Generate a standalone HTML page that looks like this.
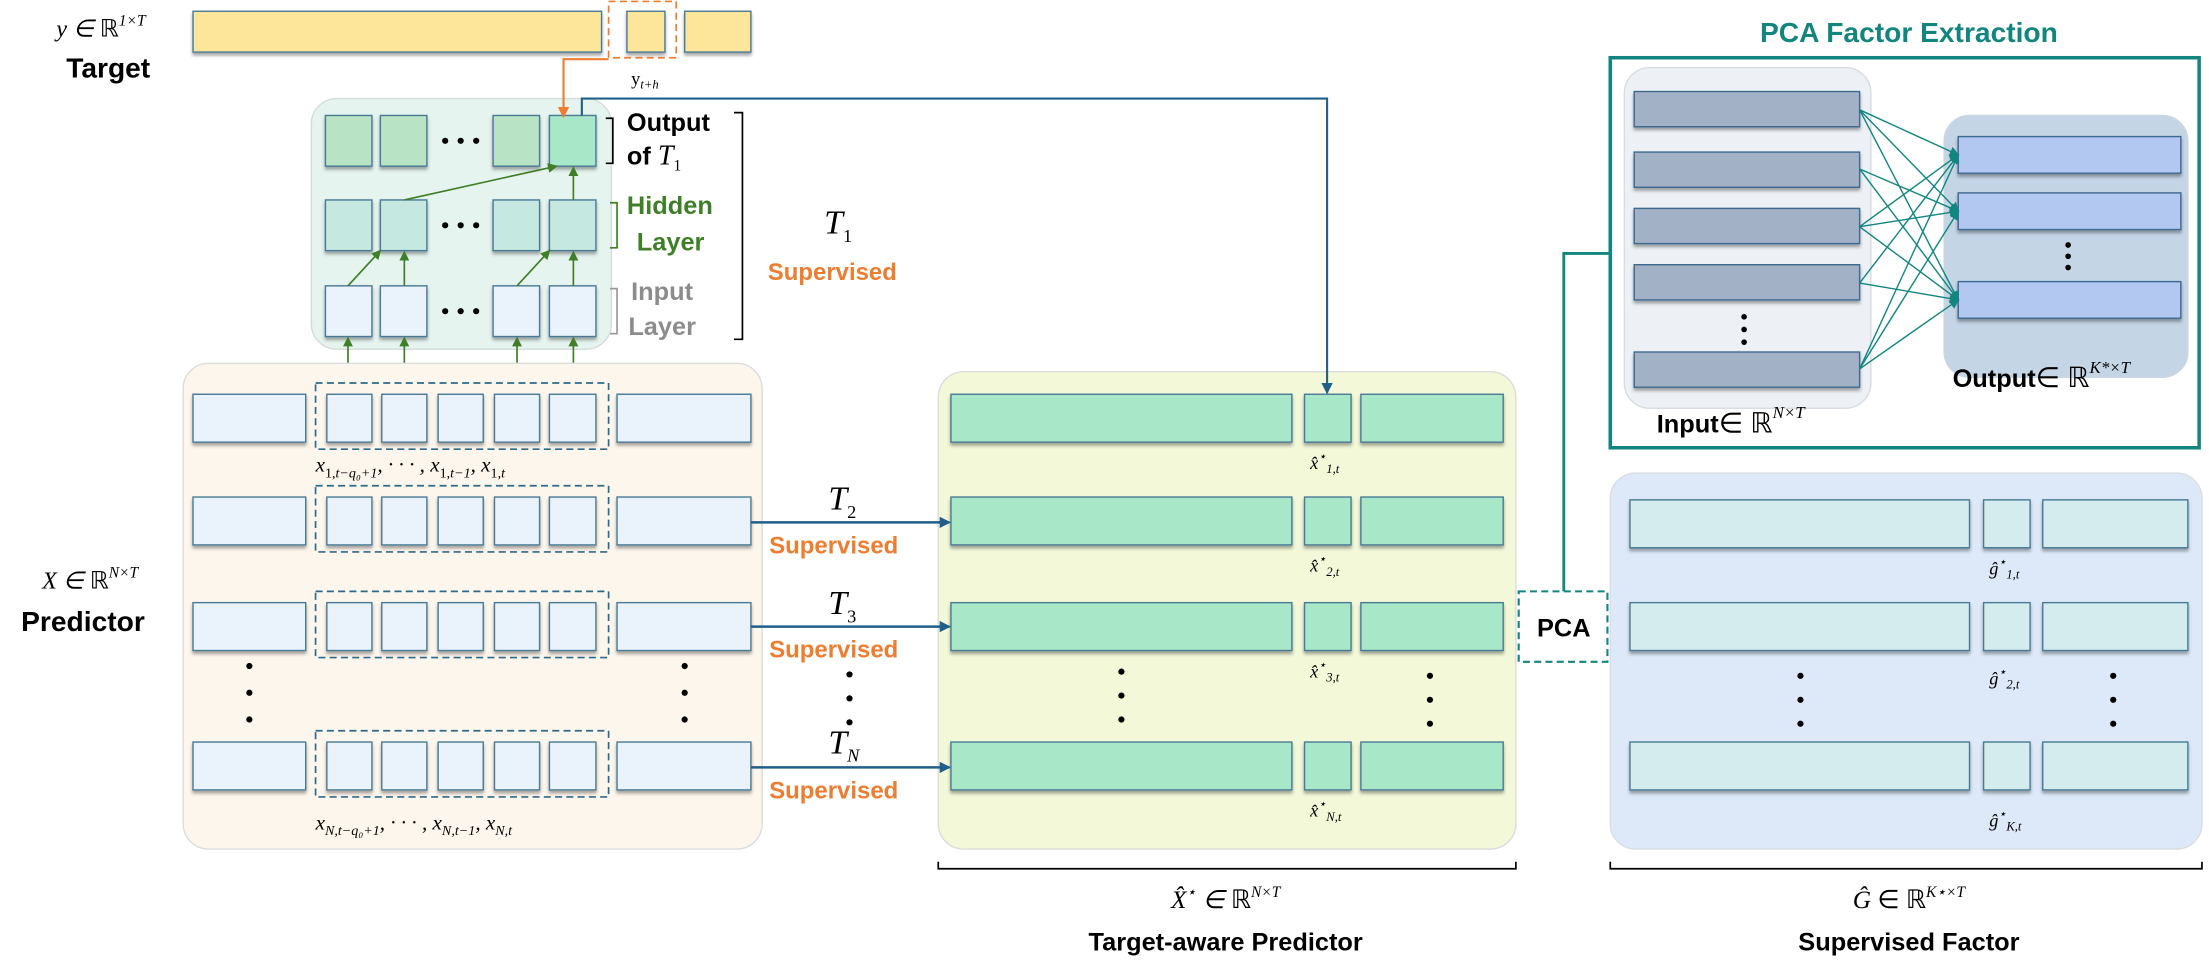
<!DOCTYPE html>
<html><head><meta charset="utf-8"><style>
html,body{margin:0;padding:0;background:#fff;width:2209px;height:980px;overflow:hidden}
svg{display:block}
.b{font-family:"Liberation Sans",sans-serif;font-weight:bold}
.m{font-family:"Liberation Serif",serif;font-style:italic}
.r{font-family:"Liberation Serif",serif}
</style></head><body>
<svg width="2209" height="980" viewBox="0 0 1568 696" preserveAspectRatio="none" xmlns="http://www.w3.org/2000/svg">
<defs>
<marker id="ab" markerWidth="8" markerHeight="8" refX="7" refY="4" orient="auto" markerUnits="userSpaceOnUse"><path d="M0,0 L8,4 L0,8 z" fill="#1f5f8a"/></marker>
<marker id="ag" markerWidth="7" markerHeight="7" refX="6" refY="3.5" orient="auto" markerUnits="userSpaceOnUse"><path d="M0,0 L7,3.5 L0,7 z" fill="#3f7f27"/></marker>
<marker id="ao" markerWidth="8" markerHeight="8" refX="7" refY="4" orient="auto" markerUnits="userSpaceOnUse"><path d="M0,0 L8,4 L0,8 z" fill="#ed7d31"/></marker>
<marker id="at" markerWidth="7" markerHeight="7" refX="6" refY="3.5" orient="auto" markerUnits="userSpaceOnUse"><path d="M0,0 L7,3.5 L0,7 z" fill="#12857e"/></marker>
<filter id="sh" x="-5%" y="-5%" width="110%" height="140%"><feDropShadow dx="0" dy="2" stdDeviation="1.2" flood-color="#000" flood-opacity="0.35"/></filter>
</defs>

<text x="40" y="26" class="m" font-size="17">y ∈ <tspan class="r" font-style="normal">ℝ</tspan><tspan font-size="11" dy="-8">1×T</tspan></text>
<text x="47" y="55" class="b" font-size="20">Target</text>
<g stroke="#4a7a96" stroke-width="1" fill="#fde59a" filter="url(#sh)">
<rect x="137" y="8" width="290" height="29"/><rect x="445" y="8" width="27" height="29"/><rect x="486" y="8" width="47" height="29"/>
</g>
<rect x="432" y="1" width="48" height="40" fill="none" stroke="#ed7d31" stroke-width="1.2" stroke-dasharray="5,3"/>
<text x="448" y="60" class="r" font-size="13">y<tspan font-size="9" dy="3" font-style="italic">t+h</tspan></text>

<rect x="221" y="70" width="213" height="178" rx="18" fill="#e6f4ef" stroke="#d4dcd8"/>
<g stroke="#4a7a96" stroke-width="1" filter="url(#sh)">
<rect x="231" y="82" width="33" height="36" fill="#b8e3c4"/><rect x="270" y="82" width="33" height="36" fill="#b8e3c4"/><rect x="350" y="82" width="33" height="36" fill="#b8e3c4"/><rect x="390" y="82" width="33" height="36" fill="#a8e8c8"/>
<rect x="231" y="142" width="33" height="36" fill="#c5e8e0"/><rect x="270" y="142" width="33" height="36" fill="#c5e8e0"/><rect x="350" y="142" width="33" height="36" fill="#c5e8e0"/><rect x="390" y="142" width="33" height="36" fill="#c5e8e0"/>
<rect x="231" y="203" width="33" height="36" fill="#eaf3fb"/><rect x="270" y="203" width="33" height="36" fill="#eaf3fb"/><rect x="350" y="203" width="33" height="36" fill="#eaf3fb"/><rect x="390" y="203" width="33" height="36" fill="#eaf3fb"/>
</g>
<path d="M432,42 H400 V83" fill="none" stroke="#ed7d31" stroke-width="1.5" marker-end="url(#ao)"/>
<g fill="#000"><circle cx="316" cy="100" r="2.2"/><circle cx="327" cy="100" r="2.2"/><circle cx="338" cy="100" r="2.2"/>
<circle cx="316" cy="160" r="2.2"/><circle cx="327" cy="160" r="2.2"/><circle cx="338" cy="160" r="2.2"/>
<circle cx="316" cy="221" r="2.2"/><circle cx="327" cy="221" r="2.2"/><circle cx="338" cy="221" r="2.2"/></g>
<g stroke="#3f7f27" stroke-width="1.2" fill="none" marker-end="url(#ag)">
<path d="M247,280 V240"/><path d="M287,280 V240"/><path d="M367,280 V240"/><path d="M407,280 V240"/>
<path d="M247,203 L270,178"/><path d="M287,203 V179"/><path d="M367,203 L390,178"/><path d="M407,203 V179"/>
<path d="M287,142 L395,118"/><path d="M407,142 V119"/>
</g>
<path d="M430,84 H435 V116 H430" fill="none" stroke="#000" stroke-width="1.2"/>
<path d="M433,144 H438 V176 H433" fill="none" stroke="#3f7f27" stroke-width="1.2"/>
<path d="M433,205 H438 V237 H433" fill="none" stroke="#999" stroke-width="1.2"/>
<path d="M521,80 H527 V241 H521" fill="none" stroke="#000" stroke-width="1.2"/>
<text x="445" y="93" class="b" font-size="18">Output</text>
<text x="445" y="117" class="b" font-size="18">of <tspan class="m" font-weight="normal" font-size="20">T</tspan><tspan class="r" font-weight="normal" font-size="11" dy="4">1</tspan></text>
<text x="445" y="152" class="b" font-size="18" fill="#3f7f27">Hidden</text>
<text x="452" y="178" class="b" font-size="18" fill="#3f7f27">Layer</text>
<text x="448" y="213" class="b" font-size="18" fill="#8c8c8c">Input</text>
<text x="446" y="238" class="b" font-size="18" fill="#8c8c8c">Layer</text>
<text x="585" y="166" class="m" font-size="24">T<tspan class="r" font-style="normal" font-size="13" dy="6">1</tspan></text>
<text x="545" y="199" class="b" font-size="17" fill="#ed7d31">Supervised</text>

<text x="30" y="418" class="m" font-size="17">X ∈ <tspan class="r" font-style="normal">ℝ</tspan><tspan font-size="11" dy="-8">N×T</tspan></text>
<text x="15" y="448" class="b" font-size="20">Predictor</text>
<rect x="130" y="258" width="411" height="345" rx="18" fill="#fdf6ec" stroke="#dcdcdc"/>
<g id="prow">
<g stroke="#4a7a96" stroke-width="1" fill="#eaf3fb" filter="url(#sh)">
<rect x="137" y="280" width="80" height="34"/><rect x="232" y="280" width="32" height="34"/><rect x="271" y="280" width="32" height="34"/><rect x="311" y="280" width="32" height="34"/><rect x="351" y="280" width="32" height="34"/><rect x="390" y="280" width="33" height="34"/><rect x="438" y="280" width="95" height="34"/>
</g>
<rect x="224" y="272" width="208" height="47" fill="none" stroke="#2f6a8a" stroke-width="1.2" stroke-dasharray="5,3"/>
</g>
<use href="#prow" y="73"/><use href="#prow" y="148"/><use href="#prow" y="247"/>
<text x="224" y="335" class="m" font-size="15">x<tspan font-size="10" dy="4" font-style="normal">1,</tspan><tspan font-size="10">t−q₀+1</tspan><tspan dy="-4">, · · · , x</tspan><tspan font-size="10" dy="4" font-style="normal">1,</tspan><tspan font-size="10">t−1</tspan><tspan dy="-4">, x</tspan><tspan font-size="10" dy="4" font-style="normal">1,</tspan><tspan font-size="10">t</tspan></text>
<text x="224" y="589" class="m" font-size="15">x<tspan font-size="10" dy="4">N,t−q₀+1</tspan><tspan dy="-4">, · · · , x</tspan><tspan font-size="10" dy="4">N,t−1</tspan><tspan dy="-4">, x</tspan><tspan font-size="10" dy="4">N,t</tspan></text>
<g fill="#000"><circle cx="177" cy="473" r="2.2"/><circle cx="177" cy="492" r="2.2"/><circle cx="177" cy="511" r="2.2"/>
<circle cx="486" cy="473" r="2.2"/><circle cx="486" cy="492" r="2.2"/><circle cx="486" cy="511" r="2.2"/>
<circle cx="603" cy="479" r="2.2"/><circle cx="603" cy="496" r="2.2"/><circle cx="603" cy="513" r="2.2"/></g>
<text x="588" y="362" class="m" font-size="24">T<tspan class="r" font-style="normal" font-size="13" dy="6">2</tspan></text>
<text x="546" y="393" class="b" font-size="17" fill="#ed7d31">Supervised</text>
<text x="588" y="436" class="m" font-size="24">T<tspan class="r" font-style="normal" font-size="13" dy="6">3</tspan></text>
<text x="546" y="467" class="b" font-size="17" fill="#ed7d31">Supervised</text>
<text x="588" y="535" class="m" font-size="24">T<tspan font-size="13" dy="6">N</tspan></text>
<text x="546" y="567" class="b" font-size="17" fill="#ed7d31">Supervised</text>

<rect x="666" y="264" width="410" height="339" rx="18" fill="#f2f8d8" stroke="#dcdcdc"/>
<g id="trow" stroke="#4a7a96" stroke-width="1" fill="#a8e8c8" filter="url(#sh)">
<rect x="675" y="280" width="242" height="34"/><rect x="926" y="280" width="33" height="34"/><rect x="966" y="280" width="101" height="34"/>
</g>
<use href="#trow" y="73"/><use href="#trow" y="148"/><use href="#trow" y="247"/>
<g stroke="#1f5f8a" stroke-width="1.8" fill="none" marker-end="url(#ab)">
<path d="M533,371 H674"/><path d="M533,445 H674"/><path d="M533,545 H674"/></g>
<path d="M413,82 V70 H942 V279" fill="none" stroke="#1f5f8a" stroke-width="1.5" marker-end="url(#ab)"/>
<g class="m" font-size="13">
<text x="930" y="333">x̂<tspan font-size="9" dy="-6">⋆</tspan><tspan font-size="9" dy="9">1,t</tspan></text>
<text x="930" y="406">x̂<tspan font-size="9" dy="-6">⋆</tspan><tspan font-size="9" dy="9">2,t</tspan></text>
<text x="930" y="481">x̂<tspan font-size="9" dy="-6">⋆</tspan><tspan font-size="9" dy="9">3,t</tspan></text>
<text x="930" y="580">x̂<tspan font-size="9" dy="-6">⋆</tspan><tspan font-size="9" dy="9">N,t</tspan></text>
</g>
<g fill="#000"><circle cx="796" cy="477" r="2.2"/><circle cx="796" cy="494" r="2.2"/><circle cx="796" cy="511" r="2.2"/>
<circle cx="1015" cy="480" r="2.2"/><circle cx="1015" cy="497" r="2.2"/><circle cx="1015" cy="514" r="2.2"/></g>
<path d="M666,612 V617 H1076 V612" fill="none" stroke="#000" stroke-width="1.2"/>
<text x="870" y="645" text-anchor="middle" class="m" font-size="18">X̂<tspan font-size="11" dy="-8">⋆</tspan><tspan dy="8"> ∈ </tspan><tspan class="r" font-style="normal">ℝ</tspan><tspan font-size="11" dy="-8">N×T</tspan></text>
<text x="870" y="675" text-anchor="middle" class="b" font-size="18">Target-aware Predictor</text>

<path d="M1110,420 V180 H1143" fill="none" stroke="#12857e" stroke-width="2"/>
<rect x="1078" y="420" width="63" height="50" fill="#fff" stroke="#12857e" stroke-width="1.5" stroke-dasharray="5,3"/>
<text x="1110" y="452" text-anchor="middle" class="b" font-size="18">PCA</text>

<text x="1355" y="30" text-anchor="middle" class="b" font-size="20" fill="#12857e">PCA Factor Extraction</text>
<rect x="1143" y="41" width="418" height="277" fill="#fff" stroke="#12857e" stroke-width="2.5"/>
<rect x="1153" y="48" width="175" height="242" rx="18" fill="#edf1f5" stroke="#d8dde2"/>
<rect x="1380" y="82" width="173" height="186" rx="18" fill="#c4d5e6" stroke="#cad6e2"/>
<g stroke="#3e6a90" stroke-width="1" fill="#a3b1c6" filter="url(#sh)">
<rect x="1160" y="65" width="160" height="25"/><rect x="1160" y="108" width="160" height="25"/><rect x="1160" y="148" width="160" height="25"/><rect x="1160" y="188" width="160" height="25"/><rect x="1160" y="250" width="160" height="25"/>
</g>
<g stroke="#3e6a90" stroke-width="1" fill="#b3c8f0" filter="url(#sh)">
<rect x="1390" y="97" width="158" height="26"/><rect x="1390" y="137" width="158" height="26"/><rect x="1390" y="200" width="158" height="26"/>
</g>
<g stroke="#12857e" stroke-width="1" fill="none" marker-end="url(#at)">
<path d="M1320,78 L1390,110"/><path d="M1320,78 L1390,150"/><path d="M1320,78 L1390,213"/>
<path d="M1320,120 L1390,150"/><path d="M1320,120 L1390,213"/>
<path d="M1320,161 L1390,110"/><path d="M1320,161 L1390,150"/><path d="M1320,161 L1390,213"/>
<path d="M1320,201 L1390,110"/><path d="M1320,201 L1390,213"/>
<path d="M1320,262 L1390,110"/><path d="M1320,262 L1390,150"/><path d="M1320,262 L1390,213"/>
</g>
<g fill="#000"><circle cx="1238" cy="225" r="2"/><circle cx="1238" cy="234" r="2"/><circle cx="1238" cy="243" r="2"/>
<circle cx="1468" cy="174" r="2"/><circle cx="1468" cy="182" r="2"/><circle cx="1468" cy="190" r="2"/></g>
<text x="1176" y="307" class="b" font-size="18">Input<tspan class="r" font-weight="normal" font-size="20">∈ ℝ</tspan><tspan class="m" font-weight="normal" font-size="12" dy="-10">N×T</tspan></text>
<text x="1386" y="275" class="b" font-size="18">Output<tspan class="r" font-weight="normal" font-size="20">∈ ℝ</tspan><tspan class="m" font-weight="normal" font-size="12" dy="-10">K*×T</tspan></text>

<rect x="1143" y="336" width="420" height="267" rx="18" fill="#dde9f8" stroke="#d8dde2"/>
<g id="grow" stroke="#4a7a96" stroke-width="1" fill="#d5ecee" filter="url(#sh)">
<rect x="1157" y="355" width="241" height="34"/><rect x="1408" y="355" width="33" height="34"/><rect x="1450" y="355" width="103" height="34"/>
</g>
<use href="#grow" y="73"/><use href="#grow" y="172"/>
<g class="m" font-size="13">
<text x="1412" y="408">ĝ<tspan font-size="9" dy="-6">⋆</tspan><tspan font-size="9" dy="9">1,t</tspan></text>
<text x="1412" y="486">ĝ<tspan font-size="9" dy="-6">⋆</tspan><tspan font-size="9" dy="9">2,t</tspan></text>
<text x="1412" y="587">ĝ<tspan font-size="9" dy="-6">⋆</tspan><tspan font-size="9" dy="9">K,t</tspan></text>
</g>
<g fill="#000"><circle cx="1278" cy="480" r="2.2"/><circle cx="1278" cy="497" r="2.2"/><circle cx="1278" cy="514" r="2.2"/>
<circle cx="1500" cy="480" r="2.2"/><circle cx="1500" cy="497" r="2.2"/><circle cx="1500" cy="514" r="2.2"/></g>
<path d="M1143,612 V617 H1563 V612" fill="none" stroke="#000" stroke-width="1.2"/>
<text x="1355" y="645" text-anchor="middle" class="m" font-size="18">Ĝ<tspan class="r" font-style="normal"> ∈ ℝ</tspan><tspan font-size="11" dy="-8">K⋆×T</tspan></text>
<text x="1355" y="675" text-anchor="middle" class="b" font-size="18">Supervised Factor</text>
</svg>
</body></html>
